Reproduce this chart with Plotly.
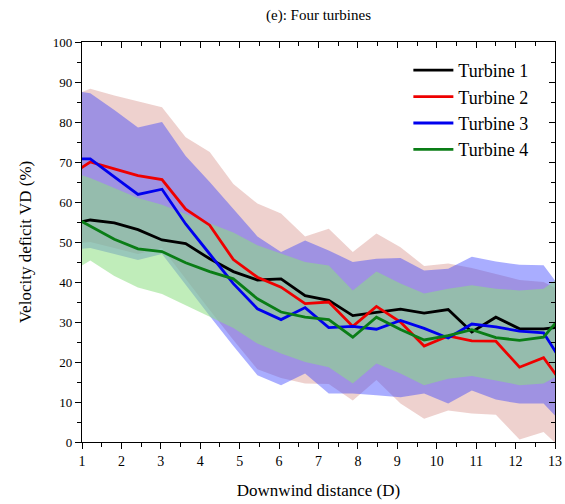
import plotly.graph_objects as go

# Downwind sample positions (in rotor diameters D)
x_d = [0.61, 1.21, 1.82, 2.42, 3.03, 3.63, 4.24, 4.84, 5.45, 6.05, 6.66,
       7.26, 7.87, 8.47, 9.08, 9.68, 10.29, 10.89, 11.5, 12.1, 12.71, 13.31]

# Mean velocity deficit (%) per turbine
turbine1 = [54.3, 55.5, 54.8, 53.1, 50.5, 49.6, 45.8, 42.6, 40.5, 40.8, 36.6,
            35.4, 31.6, 32.3, 33.2, 32.2, 33.1, 27.5, 31.2, 28.3, 28.3, 28.9]
turbine2 = [66.2, 70.0, 68.3, 66.6, 65.6, 58.2, 54.2, 45.6, 41.2, 38.7, 34.6,
            35.0, 28.9, 33.9, 30.0, 24.0, 26.5, 25.3, 25.2, 18.7, 21.1, 13.0]
turbine3 = [70.8, 70.8, 66.3, 61.9, 63.2, 54.5, 47.0, 39.6, 33.3, 30.6, 33.6,
            28.6, 28.9, 28.2, 30.4, 28.4, 26.0, 29.5, 28.8, 27.7, 27.3, 18.0]
turbine4 = [57.2, 53.9, 50.7, 48.3, 47.6, 44.8, 42.6, 40.8, 35.8, 32.5, 31.2,
            30.6, 26.2, 31.2, 28.1, 25.5, 26.6, 28.1, 26.1, 25.4, 26.2, 33.2]

# Spread envelopes (upper / lower)
t2_hi = [86.0, 88.3, 86.6, 85.2, 83.7, 76.2, 72.5, 64.5, 59.6, 57.1, 51.4,
         53.3, 47.5, 52.1, 48.7, 44.0, 44.6, 43.5, 42.0, 40.5, 40.0, 37.0]
t2_lo = [49.5, 50.0, 48.5, 47.0, 48.5, 40.7, 33.0, 25.5, 18.2, 16.0, 14.6,
         14.5, 10.4, 15.5, 9.6, 5.8, 7.9, 7.1, 6.8, 0.6, 2.5, -3.0]
t3_hi = [88.1, 87.2, 83.0, 78.6, 80.0, 71.5, 65.0, 58.3, 51.4, 47.5, 50.4,
         47.9, 45.0, 45.8, 46.0, 42.9, 43.3, 46.3, 45.1, 44.3, 44.2, 36.3]
t3_lo = [48.0, 48.5, 47.0, 45.5, 47.0, 39.2, 31.5, 24.0, 16.7, 14.2, 17.1,
         12.1, 12.1, 11.7, 11.2, 12.1, 9.6, 12.9, 10.6, 9.6, 9.6, 3.5]
t4_hi = [67.9, 66.0, 63.5, 61.0, 59.3, 57.0, 54.6, 52.4, 49.2, 47.1, 45.0,
         44.1, 37.9, 42.6, 39.6, 37.1, 38.3, 39.2, 38.3, 37.9, 38.3, 42.6]
t4_lo = [41.8, 45.4, 41.5, 38.6, 37.0, 34.2, 31.4, 28.5, 24.6, 22.1, 20.0,
         18.7, 14.6, 19.6, 17.1, 14.2, 15.8, 16.5, 15.4, 14.2, 14.6, 17.9]

names = ["Turbine 1", "Turbine 2", "Turbine 3", "Turbine 4"]
line_colors = ["#000000", "#ee0000", "#0000ee", "#0a7d16"]

FONT = "Liberation Serif"

fig = go.Figure()

# Shaded envelopes: drawn first so the mean lines sit on top
bands = [
    (t2_hi, t2_lo, "rgba(205,120,110,0.34)"),
    (t3_hi, t3_lo, "rgba(50,60,255,0.42)"),
    (t4_hi, t4_lo, "rgba(140,222,130,0.55)"),
]
for hi, lo, fill in bands:
    fig.add_trace(go.Scatter(x=x_d, y=hi, mode="lines", line=dict(width=0),
                             showlegend=False, hoverinfo="skip"))
    fig.add_trace(go.Scatter(x=x_d, y=lo, mode="lines", line=dict(width=0),
                             fill="tonexty", fillcolor=fill,
                             showlegend=False, hoverinfo="skip"))

for name, ys, col in zip(names, [turbine1, turbine2, turbine3, turbine4], line_colors):
    fig.add_trace(go.Scatter(x=x_d, y=ys, mode="lines", name=name,
                             line=dict(color=col, width=2.8)))

# Invisible trace anchoring the mirrored top/right axes
fig.add_trace(go.Scatter(x=[1], y=[0], xaxis="x2", yaxis="y2", mode="markers",
                         marker=dict(opacity=0), showlegend=False, hoverinfo="skip"))

axis_common = dict(showgrid=False, zeroline=False, showline=True,
                   linecolor="black", linewidth=1.3, tickcolor="black",
                   tickwidth=1.3)

fig.update_layout(
    width=565, height=504,
    margin=dict(l=82, r=3, t=42, b=62),
    paper_bgcolor="white", plot_bgcolor="white",
    font=dict(family=FONT, color="black", size=13),
    title=dict(text="(e): Four turbines", x=0.5, xanchor="center",
               xref="paper", y=0.97, yanchor="middle",
               font=dict(family=FONT, size=15)),
    xaxis=dict(range=[1, 13], tickmode="linear", tick0=1, dtick=1,
               ticks="outside", ticklen=6, ticklabeloverflow="allow",
               minor=dict(ticks="outside", dtick=0.5, ticklen=4,
                          tickcolor="black", tickwidth=1.3),
               tickfont=dict(size=14, family=FONT),
               title=dict(text="Downwind distance (D)", standoff=16,
                          font=dict(size=17, family=FONT)),
               **axis_common),
    yaxis=dict(range=[0, 100], tickmode="linear", tick0=0, dtick=10,
               ticks="outside", ticklen=6,
               minor=dict(ticks="outside", dtick=5, ticklen=4,
                          tickcolor="black", tickwidth=1.3),
               tickfont=dict(size=13, family=FONT),
               title=dict(text="Velocity deficit VD (%)", standoff=16,
                          font=dict(size=17, family=FONT)),
               **axis_common),
    xaxis2=dict(range=[1, 13], overlaying="x", side="top", anchor="y2",
                tickmode="linear", tick0=1, dtick=1, ticks="inside", ticklen=6,
                minor=dict(ticks="inside", dtick=0.5, ticklen=4,
                           tickcolor="black", tickwidth=1.3),
                showticklabels=False, **axis_common),
    yaxis2=dict(range=[0, 100], overlaying="y", side="right", anchor="x2",
                tickmode="linear", tick0=0, dtick=10, ticks="inside", ticklen=6,
                minor=dict(ticks="inside", dtick=5, ticklen=4,
                           tickcolor="black", tickwidth=1.3),
                showticklabels=False, **axis_common),
    legend=dict(x=0.69, y=0.975, xanchor="left", yanchor="top",
                traceorder="normal",
                bgcolor="rgba(0,0,0,0)", borderwidth=0,
                font=dict(size=18, family=FONT), tracegroupgap=0,
                itemwidth=40),
)

fig.write_html("out.html")
